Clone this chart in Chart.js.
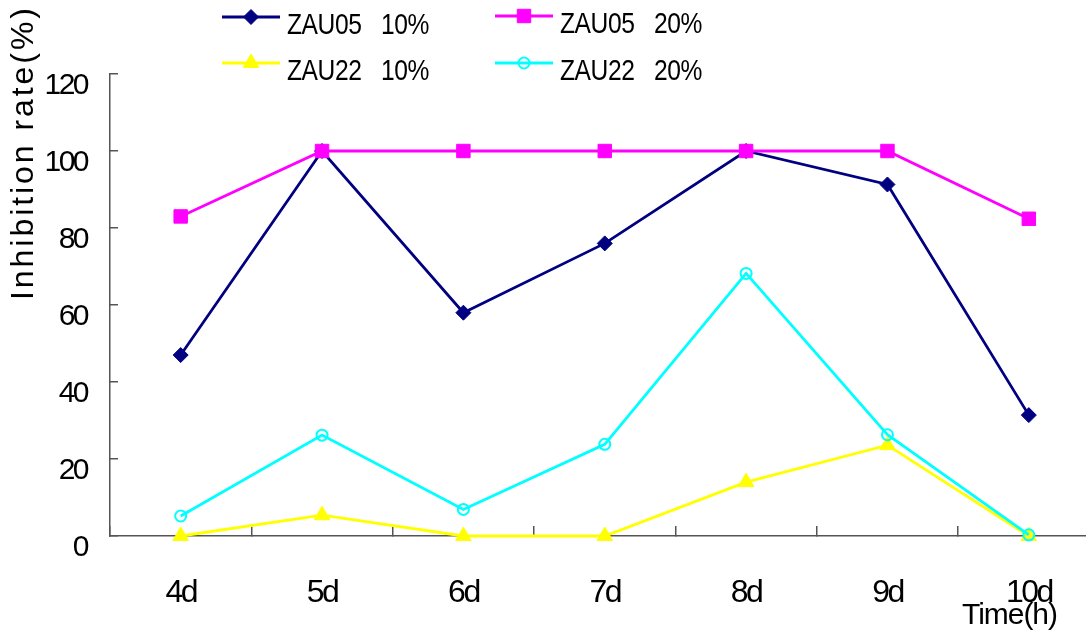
<!DOCTYPE html>
<html>
<head>
<meta charset="utf-8">
<script src="https://cdn.jsdelivr.net/npm/chart.js@4.4.1/dist/chart.umd.min.js"></script>
<style>
html, body { margin: 0; padding: 0; background: #fff; overflow: hidden; }
#wrap { position: relative; width: 1110px; height: 632px; }
</style>
</head>
<body>
<div id="wrap"><canvas id="c"></canvas></div>
<script>
// ---- data ----
const categories = ['4d', '5d', '6d', '7d', '8d', '9d', '10d'];
const zau05_10 = [47, 100, 58, 76, 100, 91.3, 31.4];
const zau05_20 = [83, 100, 100, 100, 100, 100, 82.4];
const zau22_10 = [0, 5.4, 0, 0, 14, 23.6, 0];
const zau22_20 = [5.2, 26.2, 6.9, 23.8, 68.2, 26.3, 0.3];
const seriesNames = ['ZAU05 10%', 'ZAU05 20%', 'ZAU22 10%', 'ZAU22 20%'];
const yTickValues = [0, 20, 40, 60, 80, 100, 120];
const yTitle = 'Inhibition rate(%)';
const xTitle = 'Time(h)';

const FONT = '"Liberation Sans Narrow", "Arial Narrow", "Liberation Sans", Arial, sans-serif';
const AXIS = '#555555';

function ds(label, data, color, style, radius, order, extra) {
  return Object.assign({
    label, data,
    borderColor: color,
    backgroundColor: color,
    borderWidth: 2.8,
    pointStyle: style,
    pointRadius: radius,
    pointHoverRadius: radius,
    pointBackgroundColor: color,
    pointBorderColor: color,
    pointBorderWidth: 1,
    tension: 0,
    clip: false,
    order
  }, extra || {});
}

const datasets = [
  ds(seriesNames[0], zau05_10, '#000080', 'rectRot', 7.5, 3),
  ds(seriesNames[1], zau05_20, '#FF00FF', 'rect', 9.5, 1),
  ds(seriesNames[2], zau22_10, '#FFFF00', 'triangle', 9, 2),
  ds(seriesNames[3], zau22_20, '#00FFFF', 'circle', 5.5, 0, {
    pointBackgroundColor: 'rgba(255,255,255,0)', pointBorderWidth: 2
  })
];

const legendPos = [
  { x: 222, y: 17 }, { x: 495, y: 16 },
  { x: 222, y: 63 }, { x: 495, y: 63 }
];

const decorPlugin = {
  id: 'decor',
  beforeDraw(chart) {
    chart.ctx.letterSpacing = '-2.5px';
  },
  afterDraw(chart) {
    const ctx = chart.ctx;
    ctx.letterSpacing = '0px';
    ctx.save();
    // legend
    chart.data.datasets.forEach((d, i) => {
      const p = legendPos[i];
      ctx.strokeStyle = d.borderColor;
      ctx.lineWidth = d.borderWidth;
      ctx.beginPath();
      ctx.moveTo(p.x, p.y);
      ctx.lineTo(p.x + 58, p.y);
      ctx.stroke();
      ctx.fillStyle = d.pointBackgroundColor;
      ctx.strokeStyle = d.pointBorderColor;
      ctx.lineWidth = d.pointBorderWidth;
      Chart.helpers.drawPoint(ctx, {
        pointStyle: d.pointStyle, radius: d.pointRadius, rotation: 0, borderWidth: d.pointBorderWidth
      }, p.x + 29, p.y);
      ctx.save();
      ctx.fillStyle = '#000';
      ctx.font = '30px ' + FONT;
      ctx.letterSpacing = '-0.5px';
      ctx.wordSpacing = '16px';
      ctx.textAlign = 'left';
      ctx.textBaseline = 'alphabetic';
      ctx.translate(p.x + 65, p.y + 17);
      ctx.scale(0.82, 1);
      ctx.fillText(d.label, 0, 0);
      ctx.restore();
    });
    // y title
    ctx.font = '32px ' + FONT;
    ctx.fillStyle = '#000';
    ctx.letterSpacing = '0px';
    let w0 = ctx.measureText(yTitle).width;
    let sp = (292 - w0) / (yTitle.length - 1);
    ctx.letterSpacing = sp + 'px';
    ctx.translate(33, 300);
    ctx.rotate(-Math.PI / 2);
    ctx.textAlign = 'left';
    ctx.textBaseline = 'alphabetic';
    ctx.fillText(yTitle, 0, 0);
    ctx.restore();
    // x title
    ctx.save();
    ctx.font = '30px ' + FONT;
    ctx.fillStyle = '#000';
    ctx.letterSpacing = '0px';
    w0 = ctx.measureText(xTitle).width;
    sp = (96 - w0) / (xTitle.length - 1);
    ctx.letterSpacing = sp + 'px';
    ctx.textAlign = 'left';
    ctx.textBaseline = 'alphabetic';
    ctx.fillText(xTitle, 962, 624);
    ctx.restore();
  }
};

new Chart(document.getElementById('c'), {
  type: 'line',
  data: { labels: categories, datasets },
  options: {
    responsive: true,
    maintainAspectRatio: false,
    animation: false,
    events: [],
    layout: { padding: { left: 0, right: 0, top: 74, bottom: 0 } },
    plugins: { legend: { display: false }, tooltip: { enabled: false }, title: { display: false } },
    scales: {
      x: {
        type: 'category',
        offset: true,
        afterFit(s) { s.height = 96; },
        grid: {
          offset: true,
          drawOnChartArea: false,
          drawTicks: true,
          tickLength: -10,
          color: AXIS,
          lineWidth: 1.5
        },
        border: { color: AXIS, width: 1.5 },
        ticks: {
          color: '#000',
          font: { family: FONT, size: 32 },
          padding: 48,
          maxRotation: 0,
          autoSkip: false
        }
      },
      y: {
        min: 0,
        max: 120,
        afterFit(s) { s.width = 110; },
        afterBuildTicks(s) { s.ticks = yTickValues.map(v => ({ value: v })); },
        grid: {
          drawOnChartArea: false,
          drawTicks: true,
          tickLength: -8,
          color: AXIS,
          lineWidth: 1.5
        },
        border: { color: AXIS, width: 1.5 },
        ticks: {
          color: '#000',
          font: { family: FONT, size: 30 },
          padding: 31,
          labelOffset: 12
        }
      }
    }
  },
  plugins: [decorPlugin]
});
</script>
</body>
</html>
